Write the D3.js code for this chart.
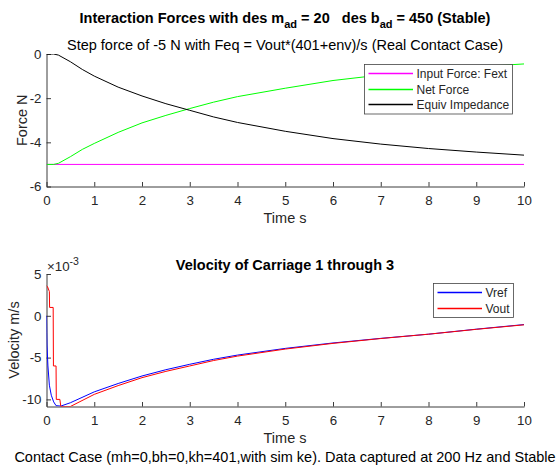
<!DOCTYPE html>
<html lang="en">
<head>
<meta charset="UTF-8">
<title>Interaction Forces</title>
<script src="https://cdn.jsdelivr.net/npm/d3@7"></script>
<style>
    body { margin: 0; background: #fff; }
    text { font-family: "Liberation Sans", Arial, Helvetica, sans-serif; }
</style>
</head>
<body>
<div id="fig"></div>
<script>
    // ---- data ----
    const xTicks = [0, 1, 2, 3, 4, 5, 6, 7, 8, 9, 10];
    const forceTicks = [-6, -4, -2, 0];
    const velTicks = [-10, -5, 0, 5];   // x 1e-3

    const fextT = [0, 10];
    const fextV = [-5, -5];

    const forceT = [0, 0.15, 0.25, 0.5, 0.75, 1, 1.5, 2, 2.5, 3, 3.5, 4, 5, 6, 7, 8, 9, 10];
    const netV   = [-5, -5, -4.95, -4.65, -4.32, -4.05, -3.55, -3.12, -2.78, -2.47, -2.18, -1.93, -1.55, -1.2, -0.95, -0.74, -0.58, -0.45];
    const impV   = [0, 0, -0.05, -0.35, -0.7, -1.0, -1.5, -1.9, -2.25, -2.55, -2.85, -3.1, -3.5, -3.83, -4.08, -4.28, -4.44, -4.58];

    const vrefT = [0, 0.005, 0.01, 0.03, 0.06, 0.1, 0.15, 0.2, 0.3, 0.5, 1, 1.5, 2, 2.5, 3, 3.5, 4, 5, 6, 7, 8, 9, 10];
    const vrefV = [0, -2, -3.5, -6, -8.3, -9.5, -10.3, -10.75, -10.8, -10.4, -9.1, -8.1, -7.2, -6.45, -5.8, -5.2, -4.7, -3.9, -3.25, -2.7, -2.2, -1.6, -1.05];

    const voutT = [0, 0.02, 0.06, 0.065, 0.14, 0.145, 0.2, 0.205, 0.28, 0.3, 0.5, 1, 1.5, 2, 2.5, 3, 3.5, 4, 5, 6, 7, 8, 9, 10];
    const voutV = [3.6, 3.5, 2.9, 1.0, 1.0, -6.0, -6.0, -10.0, -10.0, -10.85, -10.85, -9.4, -8.35, -7.4, -6.65, -6.0, -5.35, -4.82, -3.98, -3.3, -2.72, -2.2, -1.62, -1.08];

    const W = 556, H = 468;
    const axisCol = "#262626";
    const fontStack = '"Liberation Sans", Arial, Helvetica, sans-serif';

    const svg = d3.select("#fig").append("svg")
        .attr("width", W)
        .attr("height", H)
        .attr("viewBox", [0, 0, W, H]);

    const x = d3.scaleLinear().domain([0, 10]).range([46.5, 524]);
    const yF = d3.scaleLinear().domain([-6, 0]).range([186.5, 54]);
    const yV = d3.scaleLinear().domain([-10.85, 5]).range([406.5, 274]);

    svg.append("defs").selectAll("clipPath")
        .data([["clipTop", yF], ["clipBot", yV]])
        .join("clipPath")
        .attr("id", d => d[0])
        .append("rect")
        .attr("x", x(0)).attr("width", x(10) - x(0))
        .attr("y", d => d[1].range()[1]).attr("height", d => d[1].range()[0] - d[1].range()[1]);

    function drawAxes(y, ticks) {
        const g = svg.append("g");
        const bottom = g.append("g")
            .attr("transform", "translate(0," + y.range()[0] + ")")
            .call(d3.axisBottom(x).tickValues(xTicks).tickFormat(d => String(d))
                .tickSizeInner(-4.5).tickSizeOuter(0).tickPadding(9));
        const left = g.append("g")
            .attr("transform", "translate(" + x(0) + ",0)")
            .call(d3.axisLeft(y).tickValues(ticks).tickFormat(d => String(d))
                .tickSizeInner(-4.5).tickSizeOuter(0).tickPadding(5));
        [bottom, left].forEach(a => {
            a.select(".domain").attr("stroke", axisCol).attr("stroke-width", 0.9);
            a.selectAll(".tick line").attr("stroke", axisCol).attr("stroke-width", 0.9);
            a.selectAll(".tick text").attr("fill", axisCol).style("font-size", "13.3px").style("font-family", fontStack);
        });
        return g;
    }

    function series(ts, vs) {
        return ts.map((t, i) => [t, vs[i]]);
    }

    function drawLine(y, data, color, clip) {
        const line = d3.line().x(d => x(d[0])).y(d => y(d[1]));
        svg.append("path")
            .datum(data)
            .attr("clip-path", "url(#" + clip + ")")
            .attr("fill", "none")
            .attr("stroke", color)
            .attr("stroke-width", 1)
            .attr("stroke-linejoin", "round")
            .attr("d", line);
    }

    function legend(x0, y0, w, entries) {
        const rowH = 15.5;
        const g = svg.append("g");
        g.append("rect")
            .attr("x", x0 + 0.5).attr("y", y0 + 0.5)
            .attr("width", w).attr("height", entries.length * rowH + 3)
            .attr("fill", "#fff").attr("stroke", "#444").attr("stroke-width", 0.8);
        entries.forEach((e, i) => {
            const cy = Math.round(y0 + 9 + i * rowH) + 0.5;
            g.append("line")
                .attr("x1", x0 + 4.5).attr("x2", x0 + 49)
                .attr("y1", cy).attr("y2", cy)
                .attr("stroke", e[1]).attr("stroke-width", 1.3);
            g.append("text")
                .attr("x", x0 + 52.5).attr("y", cy + 4)
                .attr("fill", axisCol)
                .style("font-size", "12px")
                .text(e[0]);
        });
    }

    // ---- top plot ----
    drawAxes(yF, forceTicks);
    drawLine(yF, series(fextT, fextV), "#ff00ff", "clipTop");
    drawLine(yF, series(forceT, netV), "#00ff00", "clipTop");
    drawLine(yF, series(forceT, impV), "#000000", "clipTop");
    legend(364, 64, 148, [["Input Force: Fext", "#ff00ff"], ["Net Force", "#00ff00"], ["Equiv Impedance", "#000000"]]);

    const title = svg.append("text")
        .attr("x", 285).attr("y", 23)
        .attr("text-anchor", "middle")
        .attr("fill", "#000")
        .style("font-size", "14.5px").style("font-weight", "bold")
        .style("white-space", "pre");
    title.append("tspan").text("Interaction Forces with des m");
    title.append("tspan").attr("dy", 5).style("font-size", "11px").text("ad");
    title.append("tspan").attr("dy", -5).text(" = 20   des b");
    title.append("tspan").attr("dy", 5).style("font-size", "11px").text("ad");
    title.append("tspan").attr("dy", -5).text(" = 450 (Stable)");

    svg.append("text")
        .attr("x", 285).attr("y", 50)
        .attr("text-anchor", "middle").attr("fill", "#000")
        .style("font-size", "14.5px")
        .text("Step force of -5 N with Feq = Vout*(401+env)/s (Real Contact Case)");

    svg.append("text")
        .attr("x", 285).attr("y", 223)
        .attr("text-anchor", "middle").attr("fill", axisCol)
        .style("font-size", "14.5px")
        .text("Time s");

    svg.append("text")
        .attr("transform", "translate(27," + (yF(-3)) + ") rotate(-90)")
        .attr("text-anchor", "middle").attr("fill", axisCol)
        .style("font-size", "14.5px")
        .text("Force N");

    // ---- bottom plot ----
    drawAxes(yV, velTicks);
    drawLine(yV, series(vrefT, vrefV), "#0000ff", "clipBot");
    drawLine(yV, series(voutT, voutV), "#ff0000", "clipBot");
    legend(433, 283, 80, [["Vref", "#0000ff"], ["Vout", "#ff0000"]]);

    svg.append("text")
        .attr("x", 285).attr("y", 270)
        .attr("text-anchor", "middle").attr("fill", "#000")
        .style("font-size", "14.5px").style("font-weight", "bold")
        .text("Velocity of Carriage 1 through 3");

    const expo = svg.append("text")
        .attr("x", 47).attr("y", 271)
        .attr("fill", axisCol)
        .style("font-size", "13.3px");
    expo.append("tspan").text("\u00d710");
    expo.append("tspan").attr("dy", -6).style("font-size", "10.5px").text("-3");

    svg.append("text")
        .attr("x", 285).attr("y", 443)
        .attr("text-anchor", "middle").attr("fill", axisCol)
        .style("font-size", "14.5px")
        .text("Time s");

    svg.append("text")
        .attr("transform", "translate(19," + (yV(-2.9)) + ") rotate(-90)")
        .attr("text-anchor", "middle").attr("fill", axisCol)
        .style("font-size", "14.5px")
        .text("Velocity m/s");

    svg.append("text")
        .attr("x", 285).attr("y", 462)
        .attr("text-anchor", "middle").attr("fill", "#000")
        .style("font-size", "14.5px")
        .text("Contact Case (mh=0,bh=0,kh=401,with sim ke). Data captured at 200 Hz and Stable");
</script>
</body>
</html>
